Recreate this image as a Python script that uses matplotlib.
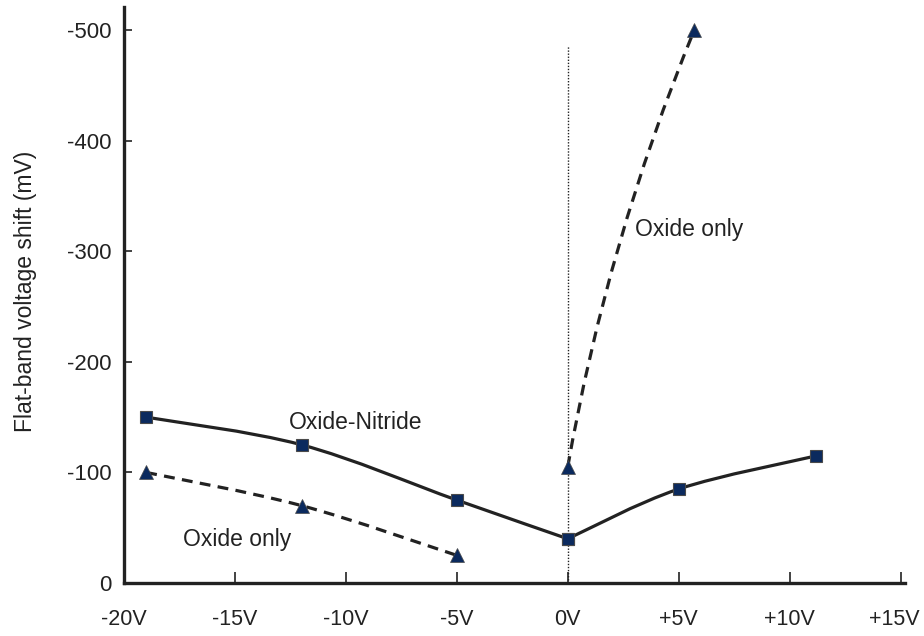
import numpy as np
import matplotlib
matplotlib.use("Agg")
import matplotlib.pyplot as plt
import matplotlib.transforms as mtransforms
from matplotlib.path import Path
from matplotlib.patches import PathPatch

plt.rcParams['font.family'] = ['Liberation Sans', 'DejaVu Sans']

# ── data ──────────────────────────────────────────────────────────────────────
# oxide-nitride stack: negative-bias branch and positive-bias branch (meet at 0V)
x_nitride_neg = [-19.0, -12.0, -5.0, 0.0]
y_nitride_neg = [150, 125, 75, 40]
x_nitride_pos = [0.0, 5.0, 11.2]
y_nitride_pos = [40, 85, 115]

x_oxide_neg = [-19.0, -12.0, -5.0]
y_oxide_neg = [100, 70, 25]

x_oxide_pos = [0.0, 5.7]
y_oxide_pos = [105, 500]

x_ticks = [-20, -15, -10, -5, 0, 5, 10, 15]
x_labels = ["-20V", "-15V", "-10V", "-5V", "0V", "+5V", "+10V", "+15V"]
y_ticks = [0, 100, 200, 300, 400, 500]
y_labels = ["0", "-100", "-200", "-300", "-400", "-500"]

LINE = "#222222"
MARK = "#0b2a5e"

fig = plt.figure(figsize=(9.24, 6.36), dpi=100)
ax = fig.add_axes([124 / 924, 53 / 636, (905 - 124) / 924, (583 - 7) / 636])
ax.set_xlim(-20, 15.2)
ax.set_ylim(0, 521)


def smooth_path(xs, ys, k=1 / 6):
    """Excel-like smoothed line through points, computed in display space."""
    pts = ax.transData.transform(np.column_stack([xs, ys]))
    n = len(pts)
    verts = [pts[0]]
    codes = [Path.MOVETO]
    for i in range(n - 1):
        p0 = pts[i - 1] if i > 0 else pts[i]
        p1, p2 = pts[i], pts[i + 1]
        p3 = pts[i + 2] if i + 2 < n else pts[i + 1]
        verts += [p1 + (p2 - p0) * k, p2 - (p3 - p1) * k, p2]
        codes += [Path.CURVE4] * 3
    return Path(verts, codes)


def bent_path(xs, ys, bend=0.055):
    """Single curved segment between two points, bowed to the upper left."""
    p0, p2 = ax.transData.transform(np.column_stack([xs, ys]))
    d = p2 - p0
    ctrl = (p0 + p2) / 2 + np.array([-d[1], d[0]]) * bend
    return Path([p0, ctrl, p2], [Path.MOVETO, Path.CURVE3, Path.CURVE3])


DASH = (0, (3.4, 2.3))
for path, ls in [(smooth_path(x_nitride_neg, y_nitride_neg), "-"),
                 (smooth_path(x_nitride_pos, y_nitride_pos), "-"),
                 (smooth_path(x_oxide_neg, y_oxide_neg), DASH),
                 (bent_path(x_oxide_pos, y_oxide_pos), DASH)]:
    ax.add_patch(PathPatch(path, transform=None, fill=False, ec=LINE, lw=2.3,
                           ls=ls, capstyle="butt", zorder=2))

sq = dict(ls="none", marker="s", ms=9, mfc=MARK, mec="#4a4a4a", mew=0.8, zorder=4)
tri = dict(ls="none", marker="^", ms=9.5, mfc=MARK, mec="#4a4a4a", mew=0.5, zorder=4)
ax.plot(x_nitride_neg, y_nitride_neg, **sq)
ax.plot(x_nitride_pos, y_nitride_pos, **sq)
ax.plot(x_oxide_neg, y_oxide_neg, **tri)
ax.plot(x_oxide_pos, y_oxide_pos, **tri)

# dotted zero-bias line
ax.plot([0, 0], [0, 486], color=LINE, lw=1.0, ls=(0, (1, 1.2)), zorder=1)

ax.text(-12.55, 145, "Oxide-Nitride", fontsize=16.5, color=LINE, va="center", ha="left")
ax.text(-17.35, 39, "Oxide only", fontsize=16.5, color=LINE, va="center", ha="left")
ax.text(3.05, 320, "Oxide only", fontsize=16.5, color=LINE, va="center", ha="left")

ax.set_xticks(x_ticks)
ax.set_xticklabels(x_labels)
ax.set_yticks(y_ticks)
ax.set_yticklabels(y_labels)
ax.tick_params(axis="x", direction="in", length=8, width=1.2, pad=19, labelsize=15.5, colors=LINE)
ax.tick_params(axis="y", direction="in", length=6, width=1.2, pad=9, labelsize=16, colors=LINE)
# keep the last label inside the canvas
last = ax.get_xticklabels()[-1]
last.set_transform(last.get_transform() + mtransforms.ScaledTranslation(-6 / 100, 0, fig.dpi_scale_trans))
for side in ["top", "right"]:
    ax.spines[side].set_visible(False)
for side in ["left", "bottom"]:
    ax.spines[side].set_linewidth(2.4)
    ax.spines[side].set_color(LINE)

fig.text(26 / 924, 1 - 291 / 636, "Flat-band voltage shift (mV)", rotation=90,
         fontsize=16.5, color=LINE, ha="center", va="center")

fig.savefig("out.png", dpi=100)
